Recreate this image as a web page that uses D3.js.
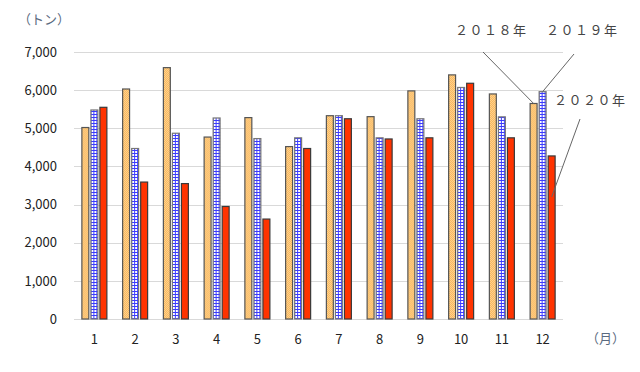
<!DOCTYPE html>
<html>
<head>
    <meta charset="utf-8">
    <title>月別 数量（トン）</title>
    <script src="https://cdn.jsdelivr.net/npm/d3@7/dist/d3.min.js"></script>
    <style>
        body { margin: 0; background: #fff; }
        text { font-family: "Noto Sans CJK JP", "Noto Sans", sans-serif; }
    </style>
</head>
<body>
<script>
    var months = ['1', '2', '3', '4', '5', '6', '7', '8', '9', '10', '11', '12'];
    var seriesNames = ['2018', '2019', '2020'];
    var v2018 = [5020, 6030, 6590, 4770, 5280, 4520, 5330, 5305, 5980, 6400, 5900, 5650];
    var v2019 = [5480, 4470, 4870, 5270, 4730, 4750, 5330, 4750, 5250, 6070, 5300, 5960];
    var v2020 = [5550, 3590, 3550, 2950, 2620, 4470, 5250, 4720, 4750, 6180, 4750, 4275];
    var yTicks = [0, 1000, 2000, 3000, 4000, 5000, 6000, 7000];
    var labels2018 = '２０１８年', labels2019 = '２０１９年', labels2020 = '２０２０年';

    var width = 640, height = 372;
    var svg = d3.select('body').append('svg').attr('width', width).attr('height', height);

    // patterns for the bars
    var defs = svg.append('defs');
    var p18 = defs.append('pattern').attr('id', 'p18').attr('patternUnits', 'userSpaceOnUse')
        .attr('width', 2).attr('height', 2);
    p18.append('rect').attr('width', 2).attr('height', 2).attr('fill', '#ffd394');
    p18.append('rect').attr('width', 1).attr('height', 1).attr('fill', '#f7b658');
    p18.append('rect').attr('x', 1).attr('y', 1).attr('width', 1).attr('height', 1).attr('fill', '#f7b658');

    var p19 = defs.append('pattern').attr('id', 'p19').attr('patternUnits', 'userSpaceOnUse')
        .attr('width', 3).attr('height', 3);
    p19.append('rect').attr('width', 3).attr('height', 3).attr('fill', '#ffffff');
    p19.append('rect').attr('width', 1).attr('height', 3).attr('fill', '#3a3aff');
    p19.append('rect').attr('width', 3).attr('height', 1).attr('fill', '#3a3aff');

    var fills = { '2018': 'url(#p18)', '2019': 'url(#p19)', '2020': '#ff3300' };
    var strokes = { '2018': '#555555', '2019': '#777777', '2020': '#3a3a3a' };
    var values = { '2018': v2018, '2019': v2019, '2020': v2020 };

    var x0 = d3.scaleBand().domain(months).range([74, 563]);
    var groupW = 26;
    var x1 = d3.scaleBand().domain(seriesNames).range([0, groupW]).paddingInner(0.12);
    var y = d3.scaleLinear().domain([0, 7000]).range([319, 52]);

    // gridlines
    svg.append('g').selectAll('line').data(yTicks).enter().append('line')
        .attr('x1', 74).attr('x2', 563)
        .attr('y1', d => Math.round(y(d)) + 0.5).attr('y2', d => Math.round(y(d)) + 0.5)
        .attr('stroke', '#d9d9d9').attr('stroke-width', 1);

    // y labels
    svg.append('g').selectAll('text').data(yTicks).enter().append('text')
        .attr('x', 57).attr('y', d => y(d)).attr('dy', '0.36em')
        .attr('text-anchor', 'end').attr('font-size', 13).attr('fill', '#222')
        .text(d => d3.format(',')(d));

    // x labels
    svg.append('g').selectAll('text').data(months).enter().append('text')
        .attr('x', d => x0(d) + x0.bandwidth() / 2).attr('y', 339).attr('dy', '0.36em')
        .attr('text-anchor', 'middle').attr('font-size', 13).attr('fill', '#222')
        .text(d => d);

    // bars
    var groups = svg.append('g').selectAll('g').data(months).enter().append('g')
        .attr('transform', d => 'translate(' + (x0(d) + (x0.bandwidth() - groupW) / 2) + ',0)');
    groups.selectAll('rect').data((m, i) => seriesNames.map(s => ({ s: s, v: values[s][i] })))
        .enter().append('rect')
        .attr('x', d => x1(d.s) + 0.5).attr('width', x1.bandwidth() - 1)
        .attr('y', d => y(d.v)).attr('height', d => y(0) - y(d.v))
        .attr('fill', d => fills[d.s]).attr('stroke', d => strokes[d.s]).attr('stroke-width', 1.2);

    // unit labels
    svg.append('text').attr('x', 18).attr('y', 24).attr('font-size', 13).attr('fill', '#5a6a80').text('（トン）');
    svg.append('text').attr('x', 586).attr('y', 343).attr('font-size', 13).attr('fill', '#5a6a80').text('（月）');

    // leader lines + series labels
    var last = months.length - 1;
    var gx = x0(months[last]) + (x0.bandwidth() - groupW) / 2;
    var leaders = [
        { t: labels2018, s: '2018', tx: 455, ty: 35, lx: 483, ly: 52, drop: 0 },
        { t: labels2019, s: '2019', tx: 546, ty: 35, lx: 574, ly: 54, drop: 0 },
        { t: labels2020, s: '2020', tx: 554, ty: 105, lx: 580, ly: 119, drop: 41 }
    ];
    svg.append('g').selectAll('line').data(leaders).enter().append('line')
        .attr('x1', d => d.lx).attr('y1', d => d.ly)
        .attr('x2', d => gx + x1(d.s) + x1.bandwidth() / 2)
        .attr('y2', d => y(values[d.s][last]) + d.drop)
        .attr('stroke', '#666').attr('stroke-width', 1);
    svg.append('g').selectAll('text').data(leaders).enter().append('text')
        .attr('x', d => d.tx).attr('y', d => d.ty).attr('font-size', 13).attr('fill', '#444')
        .attr('letter-spacing', 1.5)
        .text(d => d.t);
</script>
</body>
</html>
